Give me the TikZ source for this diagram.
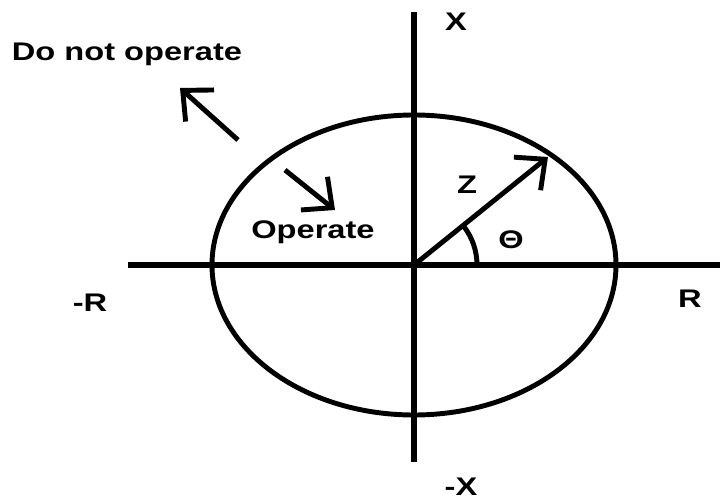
\documentclass[tikz,border=0pt]{standalone}
\usepackage{fontspec}
\setmainfont{Liberation Sans}
\usetikzlibrary{arrows.meta}

\tikzset{
  lbl/.style={font=\fontsize{14.5}{16}\selectfont\bfseries, xscale=1.28, inner sep=0pt},
  axis/.style={line width=3.3pt},
  curve/.style={line width=2.8pt},
  barb/.style={line width=2.8pt, -{Straight Barb[length=4.6mm, width=8.5mm]}}
}

\begin{document}
\begin{tikzpicture}
\useasboundingbox (-8.28,-4.74) rectangle (6.12,5.30);

% axes
\draw[axis] (-5.72,0) -- (6.12,0);
\draw[axis] (0,-3.94) -- (0,5.06);
\node[lbl] (xp) at (0.84,4.86) {X};
\node[lbl] (xm) at (0.94,-4.44) {-X};
\node[lbl] (rp) at (5.52,-0.68) {R};
\node[lbl] (rm) at (-6.48,-0.76) {-R};

% circle
\draw[curve] (0,0) ellipse [x radius=4.04, y radius=3.0];

% impedance vector
\coordinate (o) at (0,0);
\coordinate (ztip) at (2.68,2.16);
\draw[barb] (o) -- (ztip);
\node[lbl] (zlbl) at (1.06,1.6) {Z};
\draw[curve] (1.26,0) arc[start angle=0, end angle=38, radius=1.26];
\node[lbl] (thlbl) at (1.94,0.5) {Θ};

% regions
\node[lbl] (nop) at (-5.74,4.22) {Do not operate};
\coordinate (nopt) at (-3.52,2.5);
\coordinate (noph) at (-4.68,3.54);
\draw[barb] (nopt) -- (noph);

\node[lbl] (op) at (-2.02,0.66) {Operate};
\coordinate (opt) at (-2.58,1.9);
\coordinate (oph) at (-1.58,1.1);
\draw[barb] (opt) -- (oph);
\end{tikzpicture}
\end{document}
